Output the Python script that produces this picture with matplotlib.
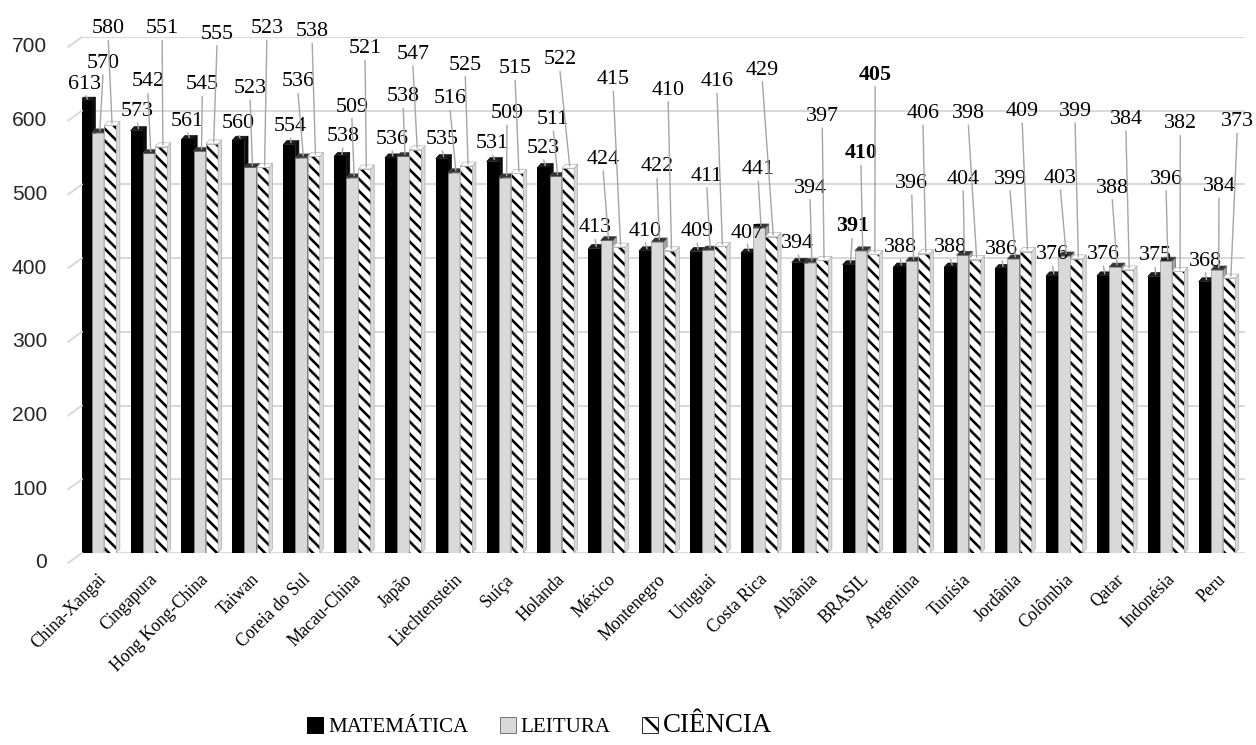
import numpy as np
import matplotlib.pyplot as plt
from matplotlib.patches import Polygon, Patch

# PISA 2012 - médias por país
paises = ['China-Xangai', 'Cingapura', 'Hong Kong-China', 'Taiwan', 'Coreia do Sul',
          'Macau-China', 'Japão', 'Liechtenstein', 'Suíça', 'Holanda', 'México',
          'Montenegro', 'Uruguai', 'Costa Rica', 'Albânia', 'BRASIL', 'Argentina',
          'Tunísia', 'Jordânia', 'Colômbia', 'Qatar', 'Indonésia', 'Peru']
matematica = [613, 573, 561, 560, 554, 538, 536, 535, 531, 523, 413, 410, 409, 407,
              394, 391, 388, 388, 386, 376, 376, 375, 368]
leitura = [570, 542, 545, 523, 536, 509, 538, 516, 509, 511, 424, 422, 411, 441,
           394, 410, 396, 404, 399, 403, 388, 396, 384]
ciencia = [580, 551, 555, 523, 538, 521, 547, 525, 515, 522, 415, 410, 416, 429,
           397, 405, 406, 398, 409, 399, 384, 382, 373]
yticks = [0, 100, 200, 300, 400, 500, 600, 700]
destaque = 'BRASIL'

# where the data labels sit (offset from group centre, height in axis units)
lab_mat_dx = [-0.26, -0.23, -0.25, -0.25, -0.22, -0.18, -0.22, -0.24, -0.25, -0.25, -0.23,
              -0.25, -0.22, -0.24, -0.24, -0.17, -0.23, -0.25, -0.23, -0.24, -0.24, -0.22, -0.23]
lab_mat_y = [636, 599, 585, 582, 578, 565, 561, 561, 555, 549, 441, 436, 436, 434, 420,
             443, 414, 414, 412, 405, 405, 403, 396]
lab_lei_dx = [0.10, -0.02, 0.05, -0.01, -0.07, -0.01, 0.0, -0.08, 0.04, -0.05, -0.07,
              -0.01, -0.03, -0.02, 0.0, 0.0, 0.0, 0.01, -0.07, -0.08, -0.06, 0.0, 0.04]
lab_lei_y = [664, 639, 635, 630, 639, 605, 619, 616, 596, 588, 534, 524, 511, 520, 495,
             542, 501, 507, 507, 508, 495, 507, 497]
lab_cie_dx = [0.20, 0.26, 0.34, 0.32, 0.21, 0.25, 0.19, 0.22, 0.20, 0.08, 0.13, 0.21,
              0.17, 0.06, 0.24, 0.28, 0.22, 0.11, 0.17, 0.21, 0.21, 0.28, 0.40]
lab_cie_y = [711, 711, 704, 711, 707, 684, 676, 662, 657, 669, 642, 628, 639, 655, 592,
             649, 596, 596, 599, 599, 588, 582, 585]

DPI = 72  # 1 pt == 1 px
plt.rcParams['hatch.linewidth'] = 2.6
serif = 'Liberation Serif'

fig = plt.figure(figsize=(1256 / DPI, 745 / DPI), dpi=DPI)
ax = fig.add_axes([82 / 1256, 1 - 553 / 745, 1163 / 1256, 516 / 745])

x = np.arange(len(paises))
w = 0.24
ddx, ddy = 0.07, 5.4  # fake 3d depth

# gridlines with the little slanted "back wall" bit on the left
for v in yticks:
    ax.axhline(v, color='#d9d9d9', lw=2, zorder=0)
    ax.annotate('', xy=(0, v), xycoords=('axes fraction', 'data'), xytext=(-14, -10),
                textcoords='offset pixels', annotation_clip=False,
                arrowprops=dict(arrowstyle='-', color='#d9d9d9', lw=2, shrinkA=0, shrinkB=0))
    ax.annotate(str(v), xy=(0, v), xycoords=('axes fraction', 'data'), xytext=(-35, -10),
                textcoords='offset pixels', ha='right', va='center', fontsize=21,
                family='Liberation Sans', color='#262626', annotation_clip=False)


def faces(xs, vals, top, side, edge):
    for xc, v in zip(xs, vals):
        x0, x1 = xc - w / 2, xc + w / 2
        ax.add_patch(Polygon([(x1, 0), (x1, v), (x1 + ddx, v + ddy), (x1 + ddx, ddy)],
                             closed=True, fc=side, ec=edge, lw=0.6, zorder=2))
        ax.add_patch(Polygon([(x0, v), (x0 + ddx, v + ddy), (x1 + ddx, v + ddy), (x1, v)],
                             closed=True, fc=top, ec=edge, lw=0.6, zorder=2))


ax.bar(x - w, matematica, w, color='black', zorder=2)
faces(x - w, matematica, '#1a1a1a', '#0d0d0d', 'black')
ax.bar(x, leitura, w, color='#d9d9d9', edgecolor='#8c8c8c', lw=0.6, zorder=2)
faces(x, leitura, '#333333', '#a6a6a6', '#595959')
ax.bar(x + w, ciencia, w, color='white', edgecolor='black', hatch='\\\\', lw=0, zorder=2)
ax.bar(x + w, ciencia, w, fill=False, edgecolor='#a6a6a6', lw=0.8, zorder=2)
faces(x + w, ciencia, 'white', '#d9d9d9', '#a6a6a6')

series = [(matematica, -w, lab_mat_dx, lab_mat_y),
          (leitura, 0, lab_lei_dx, lab_lei_y),
          (ciencia, w, lab_cie_dx, lab_cie_y)]
for vals, off, ldx, ly in series:
    for i, v in enumerate(vals):
        ax.annotate(str(v), xy=(i + off + ddx / 2, v + ddy / 2), xytext=(i + ldx[i], ly[i]),
                    ha='center', va='center', fontsize=22, family=serif,
                    fontweight='bold' if paises[i] == destaque else 'normal',
                    annotation_clip=False, zorder=5,
                    arrowprops=dict(arrowstyle='-', color='#a6a6a6', lw=1.4,
                                    shrinkA=0, shrinkB=0, relpos=(0.5, 0)))

ax.set_ylim(0, 700)
ax.set_xlim(-0.315, 22.552)
ax.set_yticks([])
ax.set_xticks(x)
ax.set_xticklabels(paises, rotation=45, ha='right', va='top', rotation_mode='anchor',
                   fontsize=17.5, family=serif)
ax.tick_params(axis='x', length=0, pad=18)
for s in ax.spines.values():
    s.set_visible(False)

handles = [Patch(fc='black', ec='black'),
           Patch(fc='#d9d9d9', ec='#595959', lw=0.8),
           Patch(fc='white', ec='black', hatch='\\', lw=0.8)]
leg = ax.legend(handles, ['MATEMÁTICA', 'LEITURA', 'CIÊNCIA'], loc='center',
                bbox_to_anchor=(540 / 1256, 1 - 726 / 745), bbox_transform=fig.transFigure,
                ncol=3, frameon=False, prop={'family': serif, 'size': 21},
                handlelength=0.75, handleheight=0.75, handletextpad=0.25,
                columnspacing=1.5, borderpad=0)
leg.get_texts()[2].set_fontsize(27)

fig.savefig('out.png', dpi=DPI)
